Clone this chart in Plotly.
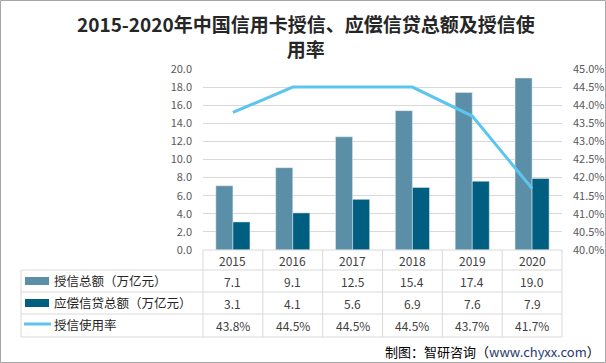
import plotly.graph_objects as go

years = ["2015", "2016", "2017", "2018", "2019", "2020"]
credit_total = [7.1, 9.1, 12.5, 15.4, 17.4, 19.0]
loan_total = [3.1, 4.1, 5.6, 6.9, 7.6, 7.9]
usage_rate = [43.8, 44.5, 44.5, 44.5, 43.7, 41.7]
series_names = ["授信总额（万亿元）", "应偿信贷总额（万亿元）", "授信使用率"]
title_text = "2015-2020年中国信用卡授信、应偿信贷总额及授信使<br>用率"
source_text = "制图：智研咨询（<span style='color:#1F3A70'>www.chyxx.com</span>）"

C1 = "#5B8FA8"
C2 = "#005F80"
C3 = "#5BC5F0"
FONT = "Noto Sans CJK SC"

W_PX, H_PX = 606, 363
L, R, T, B = 203, 562, 69, 250
PR = 572  # right edge of paper area (where right-axis labels begin)
PW, PH = R - L, B - T
AW = PR - L


def px(x):
    return (x - L) / AW


def py(y):
    return (B - y) / PH


fig = go.Figure()
fig.add_trace(go.Bar(x=years, y=credit_total, name=series_names[0], marker_color=C1))
fig.add_trace(go.Bar(x=years, y=loan_total, name=series_names[1], marker_color=C2))
fig.add_trace(go.Scatter(x=years, y=[v / 100 for v in usage_rate], name=series_names[2],
                         mode="lines", line=dict(color=C3, width=3), yaxis="y2"))

shapes = []
line_col = "#D9D9D9"
for yy in [270, 292, 314, 337]:
    shapes.append(dict(type="line", xref="paper", yref="paper", x0=px(21), x1=px(R),
                       y0=py(yy), y1=py(yy), line=dict(color=line_col, width=1)))
shapes.append(dict(type="line", xref="paper", yref="paper", x0=px(L), x1=px(R),
                   y0=py(B), y1=py(B), line=dict(color=line_col, width=1)))
shapes.append(dict(type="line", xref="paper", yref="paper", x0=px(21), x1=px(21),
                   y0=py(270), y1=py(337), line=dict(color=line_col, width=1)))
ncat = len(years)
for k in range(ncat + 1):
    xx = L + k * PW / ncat
    shapes.append(dict(type="line", xref="paper", yref="paper", x0=px(xx), x1=px(xx),
                       y0=py(B), y1=py(337), line=dict(color=line_col, width=1)))
shapes.append(dict(type="rect", xref="paper", yref="paper", x0=px(25), x1=px(49),
                   y0=py(277), y1=py(285), fillcolor=C1, line=dict(width=0)))
shapes.append(dict(type="rect", xref="paper", yref="paper", x0=px(25), x1=px(49),
                   y0=py(299), y1=py(307), fillcolor=C2, line=dict(width=0)))
shapes.append(dict(type="line", xref="paper", yref="paper", x0=px(24), x1=px(51),
                   y0=py(324), y1=py(324), line=dict(color=C3, width=3)))
shapes.append(dict(type="rect", xref="paper", yref="paper", x0=px(0.5), x1=px(W_PX - 0.5),
                   y0=py(0.5), y1=py(H_PX - 0.5), line=dict(color="#A6A6A6", width=1)))

ann = []
tfont = dict(family=FONT, size=12, color="#404040")
row_y = [281, 303, 325]


def cx(i):
    return px(L + (i + 0.5) * PW / ncat)


for i, y in enumerate(years):
    ann.append(dict(x=cx(i), xref="paper", y=py(260), yref="paper", text=y, showarrow=False,
                    font=tfont, xanchor="center", yanchor="middle"))
    ann.append(dict(x=cx(i), xref="paper", y=py(row_y[0]), yref="paper", text=f"{credit_total[i]:.1f}",
                    showarrow=False, font=tfont, xanchor="center", yanchor="middle"))
    ann.append(dict(x=cx(i), xref="paper", y=py(row_y[1]), yref="paper", text=f"{loan_total[i]:.1f}",
                    showarrow=False, font=tfont, xanchor="center", yanchor="middle"))
    ann.append(dict(x=cx(i), xref="paper", y=py(row_y[2]), yref="paper", text=f"{usage_rate[i]:.1f}%",
                    showarrow=False, font=tfont, xanchor="center", yanchor="middle"))
for j, name in enumerate(series_names):
    ann.append(dict(x=px(52), xref="paper", y=py(row_y[j] - 1), yref="paper", text=name,
                    showarrow=False, font=dict(family=FONT, size=12.5, color="#262626"),
                    xanchor="left", yanchor="middle"))
ann.append(dict(x=px(384), xref="paper", y=py(351), yref="paper", text=source_text,
                showarrow=False, font=dict(family=FONT, size=13, color="#000000"),
                xanchor="left", yanchor="middle", borderpad=0))
ann.append(dict(x=px(306), xref="paper", y=py(36), yref="paper", text=title_text,
                showarrow=False, font=dict(family=FONT, size=19, color="#262626", weight="bold"),
                xanchor="center", yanchor="middle", align="center"))

fig.update_layout(
    width=W_PX, height=H_PX,
    margin=dict(l=L, r=W_PX - PR, t=T, b=H_PX - B, pad=0, autoexpand=False),
    paper_bgcolor="white", plot_bgcolor="white",
    showlegend=False,
    barmode="group", bargap=0.43, bargroupgap=0,
    font=dict(family=FONT, color="#595959", size=11),
    xaxis=dict(type="category", domain=[0, PW / AW], range=[-0.5, ncat - 0.5], autorange=False,
               showticklabels=False, showgrid=False, zeroline=False, automargin=False,
               showline=False, ticks=""),
    yaxis=dict(range=[0, 20], dtick=2, tickformat=".1f", showgrid=True, gridcolor="#D9D9D9",
               gridwidth=1, zeroline=False, showline=False, ticks="", automargin=False,
               tickfont=dict(family=FONT, size=11, color="#595959"), ticklabelstandoff=10),
    yaxis2=dict(range=[0.40, 0.45], dtick=0.005, tickformat=".1%", overlaying="y", side="right",
                anchor="free", position=1, automargin=False,
                showgrid=False, zeroline=False, showline=False, ticks="",
                tickfont=dict(family=FONT, size=11, color="#595959")),
    shapes=shapes,
    annotations=ann,
)

fig.write_html("out.html", config={"displayModeBar": False},
               post_script="document.body.style.margin='0';")
